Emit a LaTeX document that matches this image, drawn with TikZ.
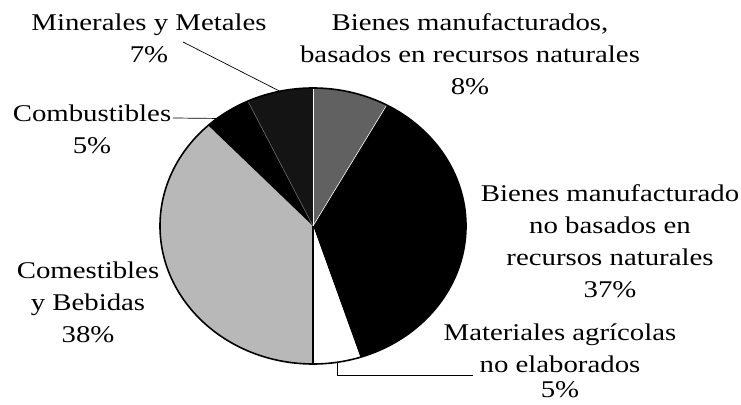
\documentclass[tikz,border=0pt]{standalone}
\usepackage{fontspec}
\setmainfont{Liberation Serif}
\usepackage{graphicx}
\usetikzlibrary{calc}
\newcommand{\lblbox}[1]{\scalebox{1.2}[1]{\fontsize{24}{32}\selectfont\begin{tabular}{@{}c@{}}#1\end{tabular}}}
\tikzset{
  lbl/.style={inner sep=0pt, text=black},
  leader/.style={line width=0.7pt, black},
  rimline/.style={line width=1.6pt, black},
  sep/.style={white, line width=0.6pt}
}
\begin{document}
\begin{tikzpicture}[x=1pt,y=1pt]
\useasboundingbox (0,0) rectangle (741,404);
\fill[white] (0,0) rectangle (741,404);
\coordinate (C) at (313,178);
% slices (parametric angles, counter-clockwise)
\fill[black!62] (C) -- ++(61.2:153 and 138) arc[start angle=61.2, end angle=90, x radius=153, y radius=138] -- cycle;
\fill[black] (C) -- ++(-72:153 and 138) arc[start angle=-72, end angle=61.2, x radius=153, y radius=138] -- cycle;
\fill[white] (C) -- ++(-90:153 and 138) arc[start angle=-90, end angle=-72, x radius=153, y radius=138] -- cycle;
\fill[black!28] (C) -- ++(133.2:153 and 138) arc[start angle=133.2, end angle=270, x radius=153, y radius=138] -- cycle;
\fill[black] (C) -- ++(115.2:153 and 138) arc[start angle=115.2, end angle=133.2, x radius=153, y radius=138] -- cycle;
\fill[black!92] (C) -- ++(90:153 and 138) arc[start angle=90, end angle=115.2, x radius=153, y radius=138] -- cycle;
% separators
\coordinate (r90) at ($(C)+(90:153 and 138)$);
\coordinate (r61) at ($(C)+(61.2:153 and 138)$);
\coordinate (r115) at ($(C)+(115.2:153 and 138)$);
\coordinate (rb) at ($(C)+(-90:153 and 138)$);
\draw[sep] (C) -- (r90);
\draw[sep] (C) -- (r61);
\draw[sep, white!40!black] (C) -- (r115);
\draw[line width=1.4pt] (C) -- (rb);
\draw[rimline] (C) ellipse [x radius=153, y radius=138];
% labels
\node[lbl] (min) at (149,364) {\lblbox{Minerales y Metales\\7\%}};
\node[lbl] (bbas) at (470,348) {\lblbox{Bienes manufacturados,\\basados en recursos naturales\\8\%}};
\node[lbl] (comb) at (92,273) {\lblbox{Combustibles\\5\%}};
\node[lbl] (come) at (88,100) {\lblbox{Comestibles\\y Bebidas\\38\%}};
\node[lbl] (bnob) at (610,161) {\lblbox{Bienes manufacturado\\no basados en\\recursos naturales\\37\%}};
\node[lbl] (mat) at (560,41) {\lblbox{Materiales agrícolas\\no elaborados\\[-7pt]5\%}};
% leaders
\coordinate (minA) at (183,362);
\coordinate (minB) at ($(C)+(102.5:153 and 138)$);
\draw[leader] (minA) -- (minB);
\coordinate (combA) at (173,286);
\coordinate (combB) at ($(C)+(128.8:153 and 138)$);
\draw[leader] (combA) -- (combB);
\coordinate (matA) at ($(C)+(-81:153 and 138)$);
\coordinate (matB) at (473,29);
\draw[leader] (matA) |- (matB);
\end{tikzpicture}
\end{document}
